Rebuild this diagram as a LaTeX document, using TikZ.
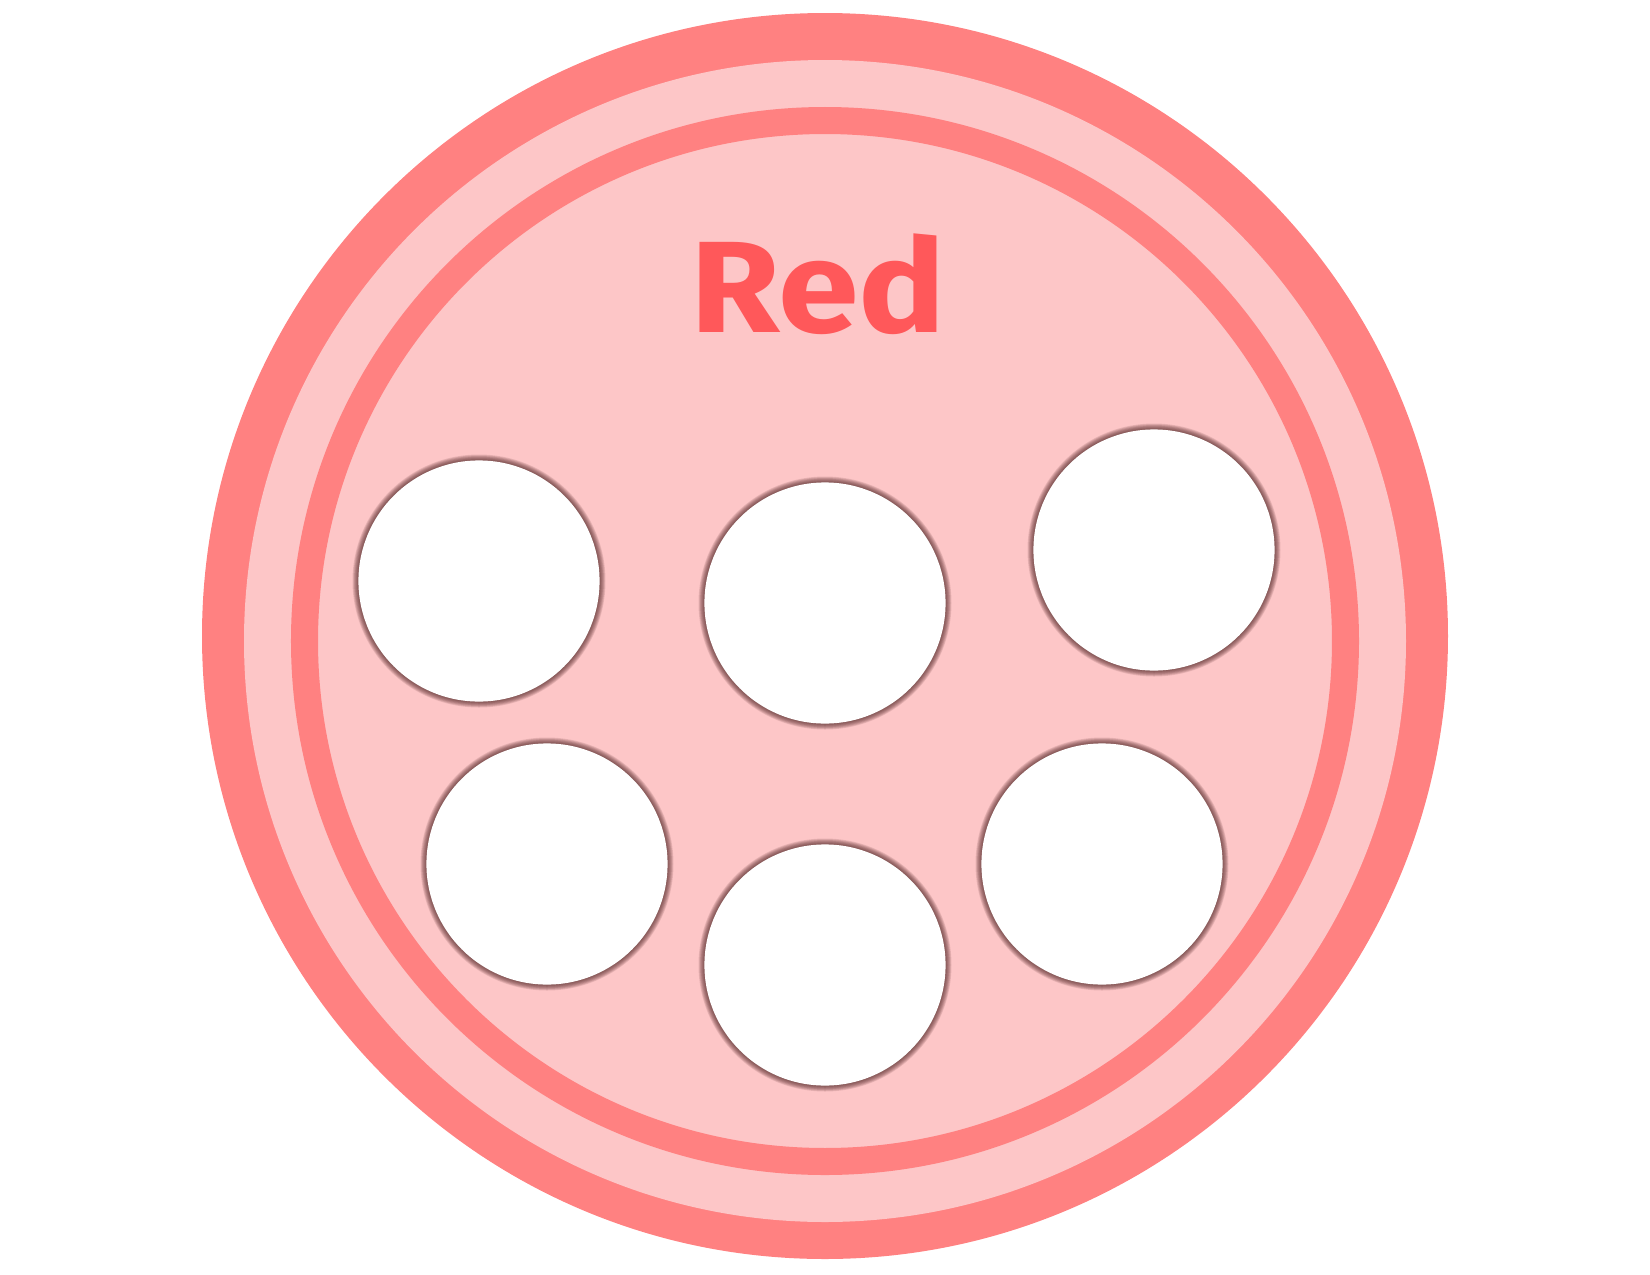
\documentclass[tikz,border=0pt]{standalone}
\usepackage{fontspec}
\setmainfont{Fira Sans}
\definecolor{bandred}{RGB}{255,129,129}
\definecolor{lightpink}{RGB}{253,198,199}
\definecolor{textred}{RGB}{255,88,90}
\definecolor{glowcol}{RGB}{85,40,40}
\begin{document}
\begin{tikzpicture}[x=0.01cm,y=-0.01cm,
  hole/.style={circle,fill=white,draw=none,minimum size=2.41cm,inner sep=0pt},
  ringline/.style={draw=bandred,line width=0.27cm},
  title/.style={text=textred,font=\fontsize{37}{40}\selectfont\bfseries,anchor=base,inner sep=0pt,xscale=1.12}]
\useasboundingbox (0,0) rectangle (1650,1275);
% outer disk and light inner disk
\fill[bandred] (825,636) circle[radius=623];
\fill[lightpink] (825,641) circle[radius=581];
% inner ring
\draw[ringline] (825,641) circle[radius=520.5];
% title
\node[title] (t) at (818,332) {Red};
% glows
\foreach \cx/\cy in {479/581,825/603,1154/550,547/864,825/965,1102/864}{
  \foreach \k in {8,7,6,5,4,3,2,1}{
    \fill[glowcol,fill opacity=0.13] (\cx,\cy) circle[radius=120.5+\k*0.75];
  }
}
% holes
\node[hole] (h1) at (479,581) {};
\node[hole] (h2) at (825,603) {};
\node[hole] (h3) at (1154,550) {};
\node[hole] (h4) at (547,864) {};
\node[hole] (h5) at (825,965) {};
\node[hole] (h6) at (1102,864) {};
\end{tikzpicture}
\end{document}
